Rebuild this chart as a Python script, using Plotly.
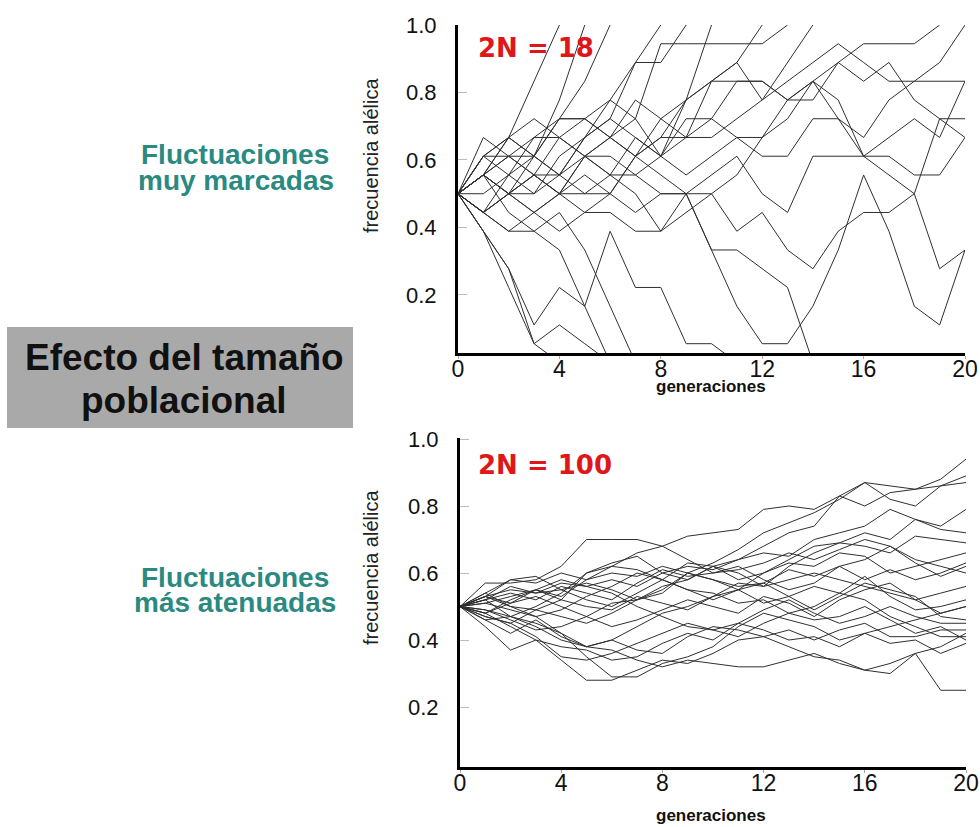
import plotly.graph_objects as go

# ---------------- data ----------------
generations = list(range(21))
x_ticks = [0, 4, 8, 12, 16, 20]
y_ticks = [0.2, 0.4, 0.6, 0.8, 1.0]
y_tick_text = ["0.2", "0.4", "0.6", "0.8", "1.0"]

# Top panel: 2N = 18, allele counts per generation (lines stop at fixation)
two_n_top = 18
t01 = [9, 7, 4, 1, 0]
t02 = [9, 7, 5, 1, 2, 1, 0]
t03 = [9, 7, 5, 2, 4, 3, 7, 4, 4, 1, 1, 0]
t04 = [9, 8, 7, 7, 6, 3, 0]
t05 = [9, 10, 8, 7, 8, 6, 3, 0]
t06 = [9, 10, 11, 10, 10, 9, 9, 8, 9, 9, 6, 6, 5, 4, 0]
t07 = [9, 8, 9, 10, 9, 8, 8, 7, 7, 9, 6, 3, 1, 1, 3, 6, 10, 7, 3, 2, 6]
t08 = [9, 10, 9, 8, 9, 11, 10, 9, 7, 8, 9, 7, 8, 6, 5, 7, 8, 8, 9, 5, 6]
t09 = [9, 11, 12, 11, 13, 13, 12, 14, 13, 12, 13, 15, 15, 14, 15, 13, 12, 14, 15, 15, 15]
t10 = [9, 10, 12, 13, 12, 11, 12, 11, 10, 9, 9, 10, 12, 13, 15, 14, 11, 12, 13, 12, 15]
t11 = [9, 11, 11, 11, 10, 11, 11, 10, 9, 9, 10, 11, 9, 8, 11, 11, 11, 11, 10, 10, 12]
t12 = [9, 8, 9, 9, 10, 12, 13, 12, 11, 10, 11, 12, 12, 14, 14, 16, 15, 16, 14, 13, 13]
t13 = [9, 10, 9, 10, 9, 9, 10, 10, 11, 13, 13, 12, 11, 11, 13, 13, 11, 10, 9, 13, 12]
t14 = [9, 11, 12, 15, 18]
t15 = [9, 10, 12, 11, 14, 18]
t16 = [9, 12, 11, 12, 13, 15, 18]
t17 = [9, 10, 9, 11, 10, 12, 14, 16, 18]
t18 = [9, 8, 10, 9, 11, 12, 13, 16, 16, 18]
t19 = [9, 11, 10, 12, 12, 13, 14, 13, 17, 17, 17, 17, 17, 18]
t20 = [9, 10, 11, 10, 12, 11, 10, 12, 11, 14, 18]
t21 = [9, 8, 9, 10, 9, 11, 12, 13, 11, 12, 15, 16, 18]
t22 = [9, 9, 10, 11, 13, 13, 12, 11, 13, 14, 15, 16, 14, 16, 18]
t23 = [9, 10, 9, 8, 7, 8, 9, 11, 12, 14, 15, 15, 15, 14, 15, 16, 17, 17, 17, 18]
t24 = [9, 8, 7, 8, 9, 10, 9, 11, 12, 12, 12, 13, 14, 15, 16, 17, 16, 15, 15, 16, 18]

# Bottom panel: 2N = 100, allele counts per generation
two_n_bottom = 100
b01 = [50, 53, 55, 54, 57, 56, 58, 56, 60, 62, 61, 64, 68, 72, 74, 83, 87, 86, 85, 88, 94]
b02 = [50, 48, 52, 55, 53, 58, 60, 59, 62, 60, 63, 67, 72, 75, 78, 82, 87, 82, 80, 86, 89]
b03 = [50, 57, 57, 58, 62, 70, 70, 70, 68, 71, 72, 73, 79, 80, 79, 83, 80, 84, 85, 86, 87]
b04 = [50, 53, 50, 49, 47, 45, 48, 52, 56, 58, 62, 64, 66, 65, 70, 72, 74, 79, 76, 74, 79]
b05 = [50, 52, 56, 54, 55, 52, 50, 54, 58, 63, 62, 58, 60, 64, 68, 69, 72, 70, 76, 73, 72]
b06 = [50, 47, 45, 49, 52, 60, 63, 65, 60, 58, 62, 60, 56, 62, 66, 69, 68, 66, 71, 70, 69]
b07 = [50, 54, 50, 47, 49, 53, 56, 60, 58, 55, 52, 55, 60, 63, 62, 66, 65, 60, 62, 64, 66]
b08 = [50, 49, 46, 43, 44, 47, 51, 52, 55, 60, 58, 56, 57, 61, 59, 62, 58, 61, 58, 60, 63]
b09 = [50, 52, 54, 52, 56, 54, 52, 57, 61, 59, 60, 62, 58, 55, 57, 62, 64, 68, 63, 59, 62]
b10 = [50, 46, 42, 46, 41, 38, 40, 44, 48, 50, 53, 57, 56, 58, 60, 58, 56, 54, 52, 54, 56]
b11 = [50, 53, 51, 55, 52, 50, 49, 53, 51, 49, 53, 55, 51, 53, 56, 54, 59, 53, 49, 50, 52]
b12 = [50, 48, 51, 53, 50, 47, 44, 46, 49, 52, 50, 48, 53, 51, 47, 52, 55, 57, 52, 48, 50]
b13 = [50, 44, 37, 40, 38, 37, 34, 35, 39, 42, 40, 45, 49, 52, 48, 45, 47, 50, 47, 45, 45]
b14 = [50, 52, 47, 45, 42, 38, 40, 37, 36, 41, 44, 43, 41, 43, 40, 43, 45, 41, 41, 43, 43]
b15 = [50, 47, 45, 41, 35, 34, 36, 39, 42, 45, 43, 41, 45, 48, 50, 54, 52, 47, 44, 41, 41]
b16 = [50, 51, 49, 47, 42, 35, 29, 29, 33, 35, 38, 44, 48, 46, 44, 40, 42, 39, 40, 36, 39]
b17 = [50, 48, 44, 40, 34, 28, 28, 31, 34, 33, 36, 40, 41, 38, 35, 34, 31, 33, 36, 38, 42]
b18 = [50, 49, 47, 44, 40, 38, 37, 34, 32, 34, 33, 32, 32, 34, 36, 33, 31, 30, 36, 25, 25]
b19 = [50, 54, 58, 59, 55, 57, 55, 52, 54, 60, 58, 55, 57, 53, 49, 53, 57, 55, 53, 47, 46]
b20 = [50, 51, 53, 55, 58, 56, 54, 50, 47, 44, 43, 45, 43, 40, 41, 38, 42, 44, 46, 48, 50]
b21 = [50, 46, 47, 50, 54, 60, 62, 61, 58, 55, 54, 51, 52, 48, 46, 47, 50, 46, 42, 44, 40]
b22 = [50, 53, 58, 57, 60, 58, 62, 66, 68, 64, 60, 61, 63, 66, 64, 67, 70, 68, 64, 62, 60]

top_paths = [t01, t02, t03, t04, t05, t06, t07, t08, t09, t10, t11, t12,
             t13, t14, t15, t16, t17, t18, t19, t20, t21, t22, t23, t24]
bottom_paths = [b01, b02, b03, b04, b05, b06, b07, b08, b09, b10, b11,
                b12, b13, b14, b15, b16, b17, b18, b19, b20, b21, b22]

# ---------------- figure ----------------
W, H = 980, 827
def px(xp):
    return xp / W
def py(yp):
    return 1 - yp / H

LINE = dict(color="#2f2f2f", width=1)
fig = go.Figure()
for p in top_paths:
    fig.add_trace(go.Scatter(x=generations[:len(p)], y=[k / two_n_top for k in p],
                             mode="lines", line=LINE, xaxis="x", yaxis="y",
                             showlegend=False, hoverinfo="skip"))
for p in bottom_paths:
    fig.add_trace(go.Scatter(x=generations[:len(p)], y=[k / two_n_bottom for k in p],
                             mode="lines", line=LINE, xaxis="x2", yaxis="y2",
                             showlegend=False, hoverinfo="skip"))

FONT = "Liberation Sans, Arial, sans-serif"
common_x = dict(range=[0, 20], tickvals=x_ticks, showgrid=False, zeroline=False,
                showline=True, linecolor="black", linewidth=3,
                ticks="outside", ticklen=3, tickcolor="#aaaaaa", tickwidth=1,
                ticklabelstandoff=-10, automargin=False,
                tickfont=dict(family=FONT, size=23, color="#111111"))
common_y = dict(tickvals=y_ticks, ticktext=y_tick_text, showgrid=False, zeroline=False,
                showline=True, linecolor="black", linewidth=3,
                ticks="inside", ticklen=9, tickcolor="#bbbbbb", tickwidth=1,
                ticklabelstandoff=14, automargin=False,
                tickfont=dict(family=FONT, size=22, color="#111111"))

fig.update_layout(
    width=W, height=H, autosize=False,
    margin=dict(l=0, r=0, t=0, b=0, pad=0, autoexpand=False),
    paper_bgcolor="white", plot_bgcolor="white", showlegend=False,
    xaxis=dict(domain=[px(458), px(965)], anchor="y", **common_x),
    yaxis=dict(domain=[py(353), py(25)], range=[0.028, 1.0], anchor="x", **common_y),
    xaxis2=dict(domain=[px(460), px(966)], anchor="y2", **common_x),
    yaxis2=dict(domain=[py(767), py(438)], range=[0.021, 1.003], anchor="x2", **common_y),
)

# gray box
fig.add_shape(type="rect", xref="paper", yref="paper",
              x0=px(7), x1=px(353), y0=py(428), y1=py(327),
              fillcolor="#a9a9a9", line=dict(width=0), layer="below")

TEAL = "#2b8a7f"
RED = "#e0161b"
anns = [
    # left descriptions
    dict(text="<b>Fluctuaciones</b>", x=px(235), y=py(155), size=28, color=TEAL),
    dict(text="<b>muy marcadas</b>", x=px(236), y=py(180), size=28, color=TEAL),
    dict(text="<b>Fluctuaciones</b>", x=px(235), y=py(577), size=28, color=TEAL),
    dict(text="<b>más atenuadas</b>", x=px(235), y=py(602), size=28, color=TEAL),
    dict(text="<b>Efecto del tamaño</b>", x=px(184), y=py(357), size=37, color="#111111"),
    dict(text="<b>poblacional</b>", x=px(184), y=py(400), size=37, color="#111111"),
    # axis titles
    dict(text="<b>generaciones</b>", x=px(711), y=py(386), size=17, color="#111111"),
    dict(text="<b>generaciones</b>", x=px(711), y=py(815), size=17, color="#111111"),
]
for a in anns:
    fig.add_annotation(text=a["text"], x=a["x"], y=a["y"], xref="paper", yref="paper",
                       xanchor="center", yanchor="middle", showarrow=False,
                       font=dict(family=FONT, size=a["size"], color=a["color"]))

for yy in (156, 568):
    fig.add_annotation(text="frecuencia alélica", x=px(371), y=py(yy), xref="paper",
                       yref="paper", xanchor="center", yanchor="middle", showarrow=False,
                       textangle=-90, font=dict(family=FONT, size=20, color="#222222"))

# panel labels
fig.add_annotation(text="<b>2N = 18</b>", x=px(476), y=py(48), xref="paper", yref="paper",
                   xanchor="left", yanchor="middle", showarrow=False,
                   font=dict(family="DejaVu Sans", size=26, color=RED))
fig.add_annotation(text="<b>2N = 100</b>", x=px(476), y=py(465), xref="paper", yref="paper",
                   xanchor="left", yanchor="middle", showarrow=False,
                   font=dict(family="DejaVu Sans", size=26, color=RED))

fig.write_html("out.html",
               config={"displayModeBar": False},
               post_script="document.body.style.margin='0';"
                           "document.body.style.overflow='hidden';")
